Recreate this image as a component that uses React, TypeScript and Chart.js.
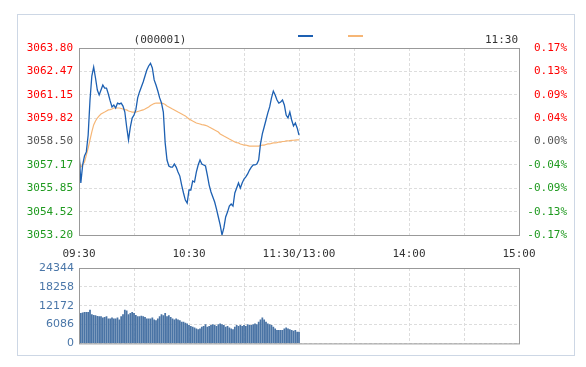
import React, { useEffect, useRef } from 'react';
import { Chart, registerables } from 'chart.js';
Chart.register(...registerables);

// minute index 0..120 (09:30 .. 11:30)
const prices = [
  3058.02, 3056.15, 3057.17, 3057.68, 3057.91, 3058.87, 3060.85, 3062.21, 3062.72, 3062.10,
  3061.42, 3061.14, 3061.42, 3061.70, 3061.53, 3061.53, 3061.19, 3060.80, 3060.46, 3060.57,
  3060.40, 3060.68, 3060.63, 3060.68, 3060.51, 3060.17, 3059.32, 3058.59, 3059.32, 3059.83,
  3060.00, 3060.29, 3060.97, 3061.31, 3061.59, 3061.87, 3062.21, 3062.55, 3062.78, 3062.93,
  3062.67, 3061.99, 3061.70, 3061.36, 3060.97, 3060.68, 3060.17, 3058.42, 3057.45, 3057.11,
  3057.05, 3057.05, 3057.22, 3057.05, 3056.77, 3056.54, 3056.03, 3055.58, 3055.18, 3055.01,
  3055.75, 3055.75, 3056.26, 3056.20, 3056.77, 3057.17, 3057.45, 3057.22, 3057.17, 3057.11,
  3056.60, 3056.03, 3055.64, 3055.35, 3055.07, 3054.67, 3054.22, 3053.77, 3053.20, 3053.60,
  3054.22, 3054.50, 3054.84, 3054.96, 3054.84, 3055.58, 3055.86, 3056.15, 3055.86, 3056.15,
  3056.37, 3056.49, 3056.66, 3056.88, 3057.05, 3057.17, 3057.17, 3057.22, 3057.45, 3058.36,
  3058.93, 3059.32, 3059.72, 3060.12, 3060.46, 3060.97, 3061.36, 3061.14, 3060.85, 3060.68,
  3060.74, 3060.85, 3060.57, 3060.00, 3059.83, 3060.17, 3059.72, 3059.38, 3059.55, 3059.27,
  3058.87,
];

const avgPrices = [
  3057.45, 3057.05, 3057.17, 3057.34, 3057.73, 3058.13, 3058.59, 3059.04, 3059.44, 3059.66,
  3059.83, 3059.95, 3060.06, 3060.12, 3060.17, 3060.23, 3060.29, 3060.31, 3060.34, 3060.40,
  3060.40, 3060.40, 3060.40, 3060.37, 3060.34, 3060.31, 3060.29, 3060.23, 3060.20, 3060.17,
  3060.17, 3060.17, 3060.20, 3060.23, 3060.26, 3060.29, 3060.34, 3060.40, 3060.46, 3060.54,
  3060.60, 3060.65, 3060.68, 3060.68, 3060.68, 3060.68, 3060.65, 3060.60, 3060.51, 3060.46,
  3060.40, 3060.34, 3060.29, 3060.23, 3060.17, 3060.12, 3060.06, 3060.00, 3059.95, 3059.86,
  3059.78, 3059.72, 3059.66, 3059.61, 3059.55, 3059.52, 3059.49, 3059.46, 3059.44, 3059.41,
  3059.38, 3059.32, 3059.27, 3059.21, 3059.15, 3059.10, 3059.04, 3058.93, 3058.87, 3058.81,
  3058.76, 3058.70, 3058.64, 3058.59, 3058.53, 3058.47, 3058.44, 3058.42, 3058.36, 3058.33,
  3058.30, 3058.30, 3058.27, 3058.24, 3058.24, 3058.24, 3058.24, 3058.24, 3058.24, 3058.27,
  3058.30, 3058.30, 3058.33, 3058.36, 3058.36, 3058.39, 3058.42, 3058.42, 3058.44, 3058.47,
  3058.47, 3058.50, 3058.50, 3058.53, 3058.53, 3058.55, 3058.56, 3058.57, 3058.58, 3058.59,
  3058.59,
];

const volumes = [
  9700, 9700, 9900, 10000, 10000, 10000, 10750, 9270, 9060, 8960,
  8750, 8640, 8640, 8220, 8430, 8640, 7900, 7900, 8220, 7900,
  7900, 8220, 7590, 8640, 9270, 10750, 10540, 9270, 9700, 10010,
  9700, 9060, 8640, 8640, 8850, 8640, 8430, 7900, 7900, 7900,
  8220, 7590, 7380, 7900, 8640, 9270, 8960, 9700, 8640, 8960,
  8430, 7900, 7590, 7900, 7590, 7380, 6850, 6850, 6530, 6320,
  5800, 5480, 5270, 5060, 4740, 4430, 4740, 5270, 5480, 6110,
  5270, 5480, 5800, 6110, 5800, 5480, 6110, 6320, 6110, 5800,
  5270, 5480, 5060, 4740, 4430, 5270, 5800, 5480, 5800, 5480,
  5800, 5480, 6110, 5800, 5800, 6110, 6320, 6110, 6850, 7590,
  8220, 7590, 6850, 6320, 6110, 5800, 5270, 4740, 4220, 4220,
  4220, 4220, 4740, 5060, 4740, 4430, 4220, 4010, 4220, 3690,
  3690,
];

const priceTicks = [3053.2, 3054.52, 3055.85, 3057.17, 3058.5, 3059.82, 3061.15, 3062.47, 3063.8];
const priceTickLabels = ['3053.20', '3054.52', '3055.85', '3057.17', '3058.50', '3059.82', '3061.15', '3062.47', '3063.80'];
const pctTickLabels = ['-0.17%', '-0.13%', '-0.09%', '-0.04%', '0.00%', '0.04%', '0.09%', '0.13%', '0.17%'];
const gridMinutes = [0, 30, 60, 90, 120, 150, 180, 210, 240];
const timeLabels = ['09:30', '', '10:30', '', '11:30/13:00', '', '14:00', '', '15:00'];
const volumeTicks = [0, 6086, 12172, 18258, 24344];
const volumeTickLabels = ['0', '6086', '12172', '18258', '24344'];
const stockCode = '(000001)';
const currentTime = '11:30';

const FONT = '"DejaVu Sans Mono", monospace';
const RED = '#ff0000';
const GREEN = '#1f9a1f';
const GRAY = '#555555';
const GRID = '#dddddd';
const BLUE = '#1d60b2';
const ORANGE = '#f6b676';

const tickColor = (i: number) => (i > 4 ? RED : i < 4 ? GREEN : GRAY);

const frame = {
  id: 'frame',
  afterDraw(chart: any) {
    const { ctx, chartArea: a } = chart;
    ctx.save();
    ctx.strokeStyle = '#999999';
    ctx.lineWidth = 1;
    ctx.strokeRect(a.left + 0.5, a.top + 0.5, a.right - a.left, a.bottom - a.top);
    ctx.restore();
  },
};

const header = {
  id: 'header',
  afterDraw(chart: any) {
    const { ctx } = chart;
    ctx.save();
    ctx.font = '11px ' + FONT;
    ctx.fillStyle = '#333333';
    ctx.textBaseline = 'middle';
    ctx.textAlign = 'center';
    ctx.fillText(stockCode, 160, 40);
    ctx.textAlign = 'right';
    ctx.fillText(currentTime, 518, 40);
    ctx.fillStyle = BLUE;
    ctx.fillRect(298, 35, 15, 2);
    ctx.fillStyle = ORANGE;
    ctx.fillRect(348, 35, 15, 2);
    ctx.restore();
  },
};

export default function App() {
  const priceRef = useRef<HTMLCanvasElement>(null);
  const volRef = useRef<HTMLCanvasElement>(null);

  useEffect(() => {
    const minP = priceTicks[0];
    const maxP = priceTicks[priceTicks.length - 1];
    const priceChart = new Chart(priceRef.current as HTMLCanvasElement, {
      type: 'line',
      data: {
        datasets: [
          {
            data: prices.map((p, i) => ({ x: i, y: p })),
            borderColor: BLUE,
            borderWidth: 1.3,
            pointRadius: 0,
            tension: 0,
          },
          {
            data: avgPrices.map((p, i) => ({ x: i, y: p })),
            borderColor: ORANGE,
            borderWidth: 1.2,
            pointRadius: 0,
            tension: 0,
          },
        ],
      },
      options: {
        animation: false,
        responsive: false,
        layout: { padding: { top: 48, right: 19, left: 0, bottom: 0 } },
        plugins: { legend: { display: false }, tooltip: { enabled: false } },
        scales: {
          x: {
            type: 'linear',
            min: 0,
            max: 240,
            afterBuildTicks: (s: any) => {
              s.ticks = gridMinutes.map((v) => ({ value: v }));
            },
            afterFit: (s: any) => {
              s.height = 30;
            },
            ticks: {
              callback: (_v: any, i: number) => timeLabels[i],
              autoSkip: false,
              maxRotation: 0,
              padding: 13,
              color: '#333333',
              font: { family: FONT, size: 11 },
            },
            grid: { color: GRID, drawTicks: false },
            border: { display: false, dash: [3, 2] },
          },
          y: {
            position: 'left',
            min: minP,
            max: maxP,
            afterBuildTicks: (s: any) => {
              s.ticks = priceTicks.map((v) => ({ value: v }));
            },
            afterFit: (s: any) => {
              s.width = 79;
            },
            ticks: {
              callback: (_v: any, i: number) => priceTickLabels[i],
              color: (c: any) => tickColor(c.index),
              padding: 6,
              font: { family: FONT, size: 11 },
            },
            grid: { color: GRID, drawTicks: false },
            border: { display: false, dash: [3, 2] },
          },
          y2: {
            position: 'right',
            min: minP,
            max: maxP,
            afterBuildTicks: (s: any) => {
              s.ticks = priceTicks.map((v) => ({ value: v }));
            },
            afterFit: (s: any) => {
              s.width = 48;
            },
            ticks: {
              callback: (_v: any, i: number) => pctTickLabels[i],
              color: (c: any) => tickColor(c.index),
              crossAlign: 'far',
              font: { family: FONT, size: 11 },
            },
            grid: { display: false, drawTicks: false },
            border: { display: false },
          },
        },
      } as any,
      plugins: [frame, header],
    });

    const volChart = new Chart(volRef.current as HTMLCanvasElement, {
      type: 'bar',
      data: {
        datasets: [
          {
            data: volumes.map((v, i) => ({ x: i, y: v })),
            backgroundColor: '#4a74a5',
            barThickness: 1.1,
          },
        ],
      },
      options: {
        animation: false,
        responsive: false,
        layout: { padding: { top: 13, right: 67, left: 0, bottom: 10 } },
        plugins: { legend: { display: false }, tooltip: { enabled: false } },
        scales: {
          x: {
            type: 'linear',
            min: 0,
            max: 240,
            offset: false,
            afterBuildTicks: (s: any) => {
              s.ticks = gridMinutes.map((v) => ({ value: v }));
            },
            afterFit: (s: any) => {
              s.height = 0;
            },
            ticks: { display: false },
            grid: { color: GRID, drawTicks: false, offset: false },
            border: { display: false, dash: [3, 2] },
          },
          y: {
            min: 0,
            max: volumeTicks[volumeTicks.length - 1],
            afterBuildTicks: (s: any) => {
              s.ticks = volumeTicks.map((v) => ({ value: v }));
            },
            afterFit: (s: any) => {
              s.width = 79;
            },
            ticks: {
              callback: (_v: any, i: number) => volumeTickLabels[i],
              color: '#4a76a8',
              padding: 5,
              font: { family: 'Verdana, "DejaVu Sans", sans-serif', size: 11 },
            },
            grid: { color: GRID, drawTicks: false },
            border: { display: false, dash: [3, 2] },
          },
        },
      } as any,
      plugins: [frame],
    });

    return () => {
      priceChart.destroy();
      volChart.destroy();
    };
  }, []);

  return (
    <div style={{ position: 'absolute', left: 0, top: 0, width: 586, height: 367, background: '#ffffff' }}>
      <div
        style={{
          position: 'absolute',
          left: 17,
          top: 14,
          width: 556,
          height: 340,
          border: '1px solid #cdd7e5',
        }}
      />
      <canvas ref={priceRef} width={586} height={265} style={{ position: 'absolute', left: 0, top: 0 }} />
      <canvas ref={volRef} width={586} height={100} style={{ position: 'absolute', left: 0, top: 255 }} />
    </div>
  );
}
